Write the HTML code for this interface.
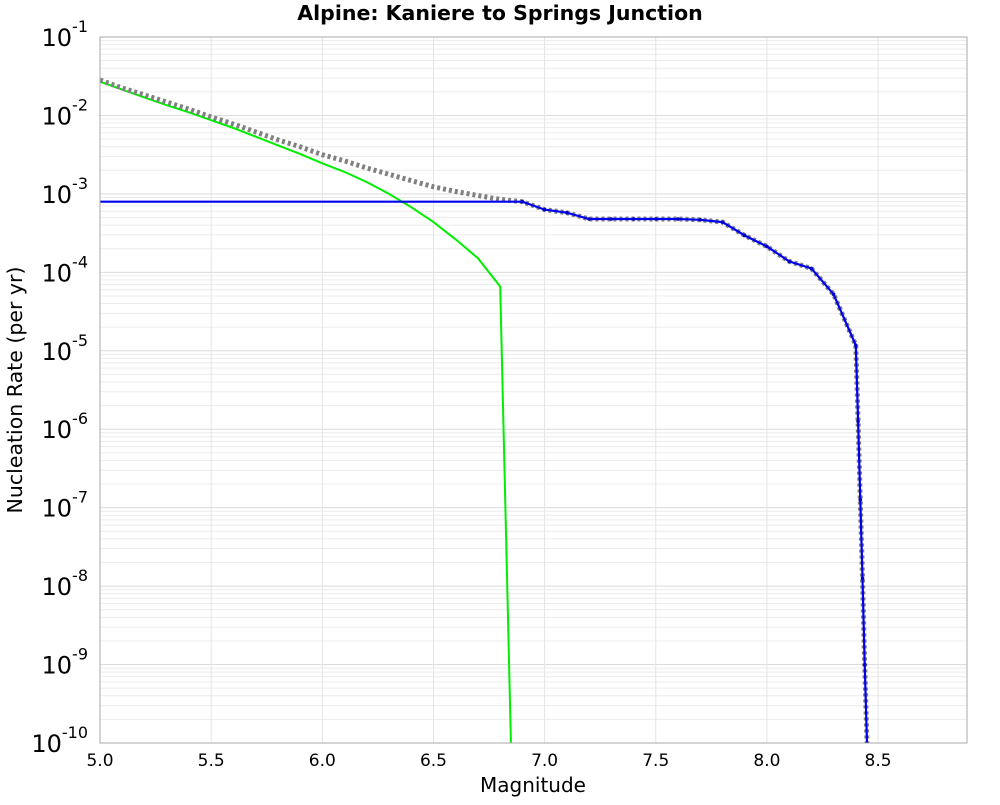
<!DOCTYPE html>
<html><head><meta charset="utf-8"><style>
body{margin:0;background:#fff;font-family:"Liberation Sans","DejaVu Sans",sans-serif;}
svg text{font-family:"DejaVu Sans","Liberation Sans",sans-serif;}
</style></head><body>
<svg id="chart" width="1000" height="800" viewBox="0 0 1000 800" xmlns="http://www.w3.org/2000/svg">
<text x="500" y="20" text-anchor="middle" font-size="20.5" font-weight="bold">Alpine: Kaniere to Springs Junction</text>
<text x="533" y="792" text-anchor="middle" font-size="20">Magnitude</text>
<text transform="translate(22,390) rotate(-90)" text-anchor="middle" font-size="20.5">Nucleation Rate (per yr)</text>
<g id="grid"></g>
<g id="ticks"></g>
<g id="series" clip-path="url(#clip)"></g>
<defs><clipPath id="clip"><rect x="100" y="37" width="867" height="706"/></clipPath></defs>
<rect x="100" y="37" width="867" height="706" fill="none" stroke="#aaa" stroke-width="1"/>
</svg>
<script>
const xTicks=[5.0,5.5,6.0,6.5,7.0,7.5,8.0,8.5];
const xTickLabels=["5.0","5.5","6.0","6.5","7.0","7.5","8.0","8.5"];
const yExps=[-1,-2,-3,-4,-5,-6,-7,-8,-9,-10];
const greenMags=[5.0,5.1,5.2,5.3,5.4,5.5,5.6,5.7,5.8,5.9,6.0,6.1,6.2,6.3,6.4,6.5,6.6,6.7,6.8,6.85];
const greenLog=[-1.57,-1.67,-1.77,-1.87,-1.96,-2.06,-2.16,-2.27,-2.38,-2.49,-2.61,-2.72,-2.85,-3.0,-3.17,-3.36,-3.58,-3.82,-4.18,-10.2];
const blueMags=[5.0,6.9,7.0,7.1,7.2,7.3,7.4,7.5,7.6,7.7,7.8,7.9,8.0,8.1,8.2,8.3,8.4,8.41,8.42,8.43,8.44,8.45,8.455];
const blueLog=[-3.1,-3.1,-3.2,-3.24,-3.32,-3.32,-3.32,-3.32,-3.32,-3.33,-3.36,-3.53,-3.67,-3.86,-3.95,-4.28,-4.93,-5.9,-6.9,-7.9,-9.0,-10.0,-10.5];
const grayMags=[5.0,5.1,5.2,5.3,5.4,5.5,5.6,5.7,5.8,5.9,6.0,6.1,6.2,6.3,6.4,6.5,6.6,6.7,6.8,6.9];
const grayLog=[-1.55,-1.65,-1.74,-1.83,-1.92,-2.02,-2.11,-2.21,-2.31,-2.4,-2.5,-2.58,-2.67,-2.75,-2.83,-2.91,-2.97,-3.02,-3.07,-3.1];
const X0=100,X1=967,XMIN=5.0,XMAX=8.9,Y0=37,Y1=743,LMAX=-1,LMIN=-10;
const sx=m=>X0+(m-XMIN)/(XMAX-XMIN)*(X1-X0);
const sy=l=>Y0+(LMAX-l)/(LMAX-LMIN)*(Y1-Y0);
const NS="http://www.w3.org/2000/svg";
function mk(t,a,p){const e=document.createElementNS(NS,t);for(const k in a)e.setAttribute(k,a[k]);p.appendChild(e);return e;}
const grid=document.getElementById('grid'),ticks=document.getElementById('ticks'),series=document.getElementById('series');
for(let d=-10;d<-1;d++){for(let k=2;k<10;k++){const y=sy(d+Math.log10(k));
const l=mk('line',{x1:X0,x2:X1,y1:y,y2:y,stroke:'#ececec','stroke-width':1},grid);

}}
yExps.forEach(e=>{const y=sy(e);
const l=mk('line',{x1:X0,x2:X1,y1:y,y2:y,stroke:'#dcdcdc','stroke-width':1},grid);


const t=mk('text',{x:88,y:y+9,'text-anchor':'end','font-size':'24'},ticks);


t.textContent='10';
const s=mk('tspan',{dy:-14,'font-size':'16'},t);s.textContent=String(e);});
xTicks.forEach((v,i)=>{const x=sx(v);
const l=mk('line',{x1:x,x2:x,y1:Y0,y2:Y1,stroke:'#e4e4e4','stroke-width':1},grid);


const t=mk('text',{x:x,y:766,'text-anchor':'middle','font-size':'17'},ticks);


t.textContent=xTickLabels[i];});
function pts(ms,ls){return ms.map((m,i)=>sx(m).toFixed(1)+','+sy(ls[i]).toFixed(1)).join(' ');}
const g=mk('polyline',{points:pts(greenMags,greenLog),fill:'none',stroke:'#00ee00','stroke-width':2},series);


const gr=mk('polyline',{points:pts(grayMags.concat(blueMags.slice(2)),grayLog.concat(blueLog.slice(2))),fill:'none',stroke:'#808080','stroke-width':5,'stroke-dasharray':'3,3'},series);


const b=mk('polyline',{points:pts(blueMags,blueLog),fill:'none',stroke:'#0000ee','stroke-width':2.2},series);


blueMags.forEach((m,i)=>{if(i===0)return;
const c=mk('circle',{cx:sx(m),cy:sy(blueLog[i]),r:1.8,fill:'#0000cc'},series);

});
</script>
</body></html>
